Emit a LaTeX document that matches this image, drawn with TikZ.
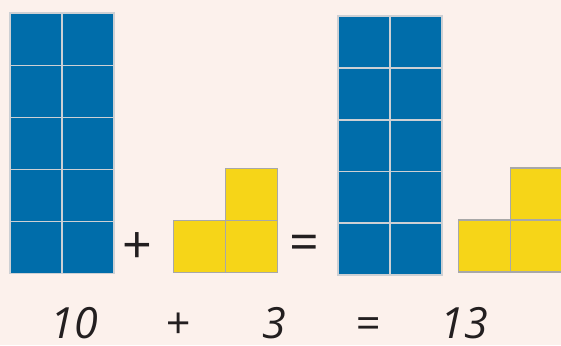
\documentclass[tikz,border=0pt]{standalone}
\usepackage{fontspec}
\setmainfont{Open Sans}
\usetikzlibrary{positioning}
\definecolor{bgcream}{RGB}{252,241,236}
\definecolor{tileblue}{RGB}{0,109,170}
\definecolor{tileyellow}{RGB}{246,213,24}
\definecolor{tileedge}{RGB}{205,208,212}
\definecolor{cubeedge}{RGB}{168,168,168}
\definecolor{signdark}{RGB}{35,31,32}
\begin{document}
\begin{tikzpicture}[
			x=1pt, y=-1pt,
			bluesq/.style={rectangle, draw=tileedge, fill=tileblue, line width=1.6pt, minimum size=52pt, inner sep=0pt, anchor=north west},
			yellowsq/.style={rectangle, draw=cubeedge, fill=tileyellow, line width=1.4pt, minimum size=52pt, inner sep=0pt, anchor=north west},
			sign/.style={text=signdark, inner sep=0pt, font=\fontsize{52}{52}\selectfont},
			numlabel/.style={text=signdark, inner sep=0pt, anchor=base, font=\fontsize{43}{43}\selectfont\itshape}
		]
		\useasboundingbox (0,0) rectangle (561,345);
		\fill[bgcream] (0,0) rectangle (561,345);
		\clip (0,0) rectangle (561,345);
		
		% ten blocks, left
		\foreach \r in {0,...,4}
			\foreach \c in {0,1}
				\node[bluesq] (tenL-\r-\c) at ({9+52*\c},{12.5+52*\r}) {};
		
		% three cubes, left
		\node[yellowsq] (threeL-a) at (172.7,219.5) {};
		\node[yellowsq] (threeL-b) at (224.7,219.5) {};
		\node[yellowsq] (threeL-c) at (224.7,167.5) {};
		
		% ten blocks, right
		\foreach \r in {0,...,4}
			\foreach \c in {0,1}
				\node[bluesq] (tenR-\r-\c) at ({337+52*\c},{15.5+51.7*\r}) {};
		
		% three cubes, right
		\node[yellowsq] (threeR-a) at (457.7,219.3) {};
		\node[yellowsq] (threeR-b) at (509.7,219.3) {};
		\node[yellowsq] (threeR-c) at (509.7,167.3) {};
		
		% signs between blocks
		\node[sign] (plusmid) at (137.7,248) {+};
		\node[sign] (eqmid) at (304,247.5) {=};
		
		% sum written below
		\node[numlabel] (numten) at (74,338.5) {10};
		\node[numlabel] (numplus) at (178,338.5) {+};
		\node[numlabel] (numthree) at (274,338.5) {3};
		\node[numlabel] (numeq) at (367.5,338.5) {=};
		\node[numlabel] (numthirteen) at (464,338.5) {13};
\end{tikzpicture}
\end{document}
